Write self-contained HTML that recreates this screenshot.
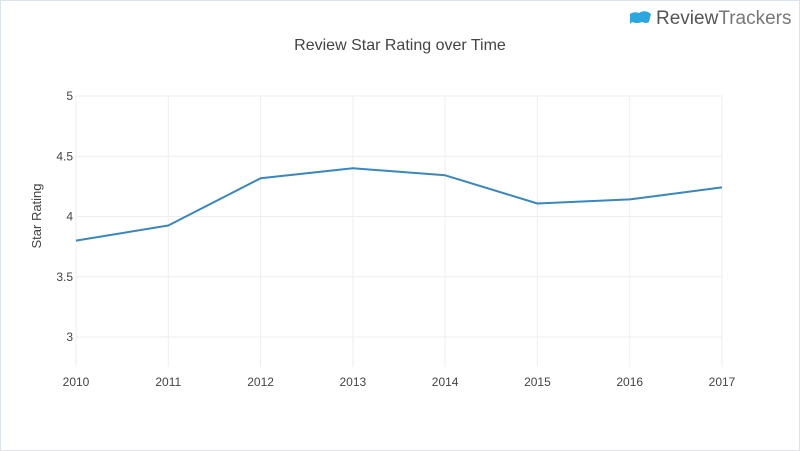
<!DOCTYPE html>
<html><head><meta charset="utf-8"><style>
body{margin:0;background:#fff;}
svg{display:block;font-family:"Liberation Sans",sans-serif;}
</style></head><body>
<svg id="chart" width="800" height="451" viewBox="0 0 800 451">
<rect x="0.5" y="0.5" width="799" height="450" fill="#fff" stroke="#dde3ea"/>
<g>
<path d="M630 14 q4-3 9-1 q4-3 9-1 l3 2 l-2 8 q-3 2-7 0 q-5 2-10 0 l-2 2 z" fill="#2ba6de"/>
<text x="656" y="24" font-size="19" fill="#555">Review<tspan fill="#777">Trackers</tspan></text>
</g>
<text x="400" y="50" text-anchor="middle" font-size="16" fill="#444">Review Star Rating over Time</text>
<text transform="translate(41,216) rotate(-90)" text-anchor="middle" font-size="13" fill="#444">Star Rating</text>
<g id="grid"></g><g id="ticks"></g><g id="series"></g>
</svg>
<script>
const years = ["2010","2011","2012","2013","2014","2015","2016","2017"];
const ratings = [3.8, 3.925, 4.317, 4.4, 4.342, 4.108, 4.142, 4.242];
const yTicks = [3, 3.5, 4, 4.5, 5];
const yTickLabels = ["3","3.5","4","4.5","5"];
const ns="http://www.w3.org/2000/svg";
const x0=76,x1=722,yTop=96,yBot=337,vMin=3,vMax=5;
function xs(i){return x0+(x1-x0)*i/(years.length-1);}
function ys(v){return yBot-(v-vMin)/(vMax-vMin)*(yBot-yTop);}
function mk(t,a,p){const e=document.createElementNS(ns,t);for(const k in a)e.setAttribute(k,a[k]);p.appendChild(e);return e;}
const grid=document.getElementById('grid'),ticks=document.getElementById('ticks'),ser=document.getElementById('series');
years.forEach((y,i)=>{
 const l=mk('line',{x1:xs(i),x2:xs(i),y1:yTop,y2:yBot+30,stroke:'#eeeeee'},grid);
 
 
 const t=mk('text',{x:xs(i),y:386,'text-anchor':'middle','font-size':12,fill:'#444'},ticks);
 t.textContent=y;
 
 
});
yTicks.forEach((v,i)=>{
 const l=mk('line',{x1:x0,x2:x1,y1:ys(v),y2:ys(v),stroke:'#eeeeee'},grid);
 
 
 const t=mk('text',{x:x0-3,y:ys(v)+4,'text-anchor':'end','font-size':12,fill:'#444'},ticks);
 t.textContent=yTickLabels[i];
 
 
});
const pts=ratings.map((v,i)=>xs(i)+','+ys(v)).join(' ');
const line=mk('polyline',{points:pts,fill:'none',stroke:'#3a86bd','stroke-width':2,'stroke-linejoin':'round'},ser);


</script>
</body></html>
